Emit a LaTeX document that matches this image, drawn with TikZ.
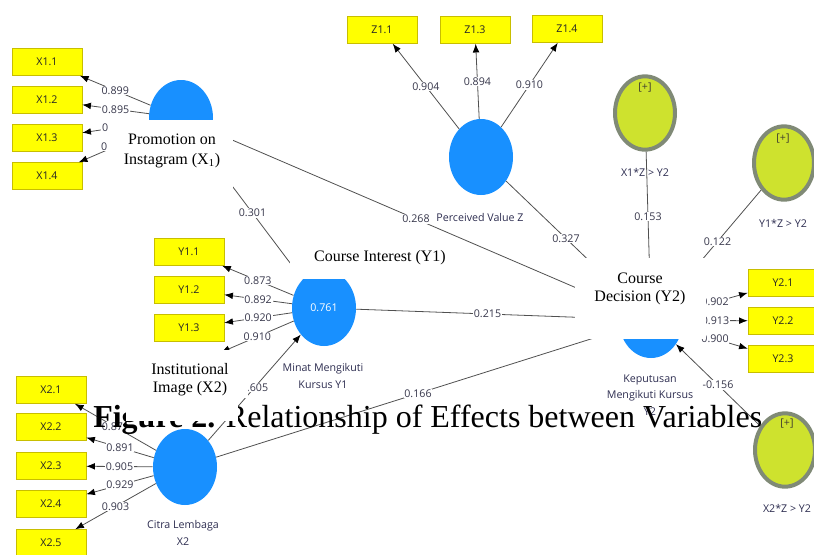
\documentclass[tikz,border=0pt]{standalone}
\usepackage{fontspec}
\setmainfont{Liberation Serif}
\newfontfamily\plsfont{Open Sans}
\usetikzlibrary{arrows.meta,shapes.geometric}
\definecolor{boxfill}{RGB}{255,255,0}
\definecolor{boxedge}{RGB}{200,190,0}
\definecolor{latentblue}{RGB}{24,144,255}
\definecolor{modfill}{RGB}{206,226,46}
\definecolor{modedge}{RGB}{128,138,118}
\definecolor{linegray}{RGB}{80,80,80}
\definecolor{labeltext}{RGB}{55,55,75}
\definecolor{nametext}{RGB}{45,45,80}
\def\plssize{\plsfont\fontsize{8}{12.5}\selectfont}
\def\timessize{\fontsize{12}{13.5}\selectfont}
\tikzset{
  indicator/.style={draw=boxedge, fill=boxfill, minimum width=52.5pt, minimum height=20.25pt, inner sep=0pt, font=\plssize, text=black!85},
  latent/.style={ellipse, fill=latentblue, minimum width=48pt, minimum height=57pt, inner sep=0pt, font=\plssize, text=white},
  moderator/.style={ellipse, draw=modedge, line width=3pt, fill=modfill, minimum width=45pt, minimum height=55pt, inner sep=0pt},
  loading/.style={draw=linegray, line width=0.6pt, -{Latex[length=6.5pt,width=5pt,color=black]}},
  effect/.style={draw=linegray, line width=0.6pt, -{Latex[length=6.5pt,width=5pt,color=black]}},
  coef/.style={fill=white, inner sep=0.6pt, font=\plssize, text=labeltext},
  lvname/.style={align=center, font=\plssize, text=nametext},
  plus/.style={font=\plssize, text=black!70!olive},
  capnote/.style={align=center, font=\timessize, text=black}
}

\begin{document}
\begin{tikzpicture}[x=0.75pt,y=-0.75pt]
  %%%%% START %%%%%
  \useasboundingbox (0,0) rectangle (814,554);
  \clip (0,0) rectangle (814,554);

  % latent variables
  \node[latent] (X1) at (181,118) {};
  \node[latent] (Y1) at (324,308) {0.761};
  \node[latent] (Z) at (481,157) {};
  \node[latent] (Y2) at (651,320) {};
  \node[latent] (X2) at (185,467) {};

  % moderating effects
  \node[moderator] (XZ1) at (645,113) {};
  \node[moderator] (YZ1) at (784,163) {};
  \node[moderator] (XZ2) at (785,450) {};
  \node[plus] at (645,88) {[+]};
  \node[plus] at (783,139) {[+]};
  \node[plus] at (787,424) {[+]};

  % indicators
  \node[indicator] (X11) at (47,62) {X1.1};
  \node[indicator] (X12) at (47,100) {X1.2};
  \node[indicator] (X13) at (47,138) {X1.3};
  \node[indicator] (X14) at (47,176) {X1.4};

  \node[indicator] (Y11) at (189,252) {Y1.1};
  \node[indicator] (Y12) at (189,290) {Y1.2};
  \node[indicator] (Y13) at (189,328) {Y1.3};
  \node[indicator] (Y14) at (189,366) {Y1.4};

  \node[indicator] (X21) at (51,390) {X2.1};
  \node[indicator] (X22) at (51,427) {X2.2};
  \node[indicator] (X23) at (51,466) {X2.3};
  \node[indicator] (X24) at (51,504) {X2.4};
  \node[indicator] (X25) at (51,543) {X2.5};

  \node[indicator] (Z11) at (382,30) {Z1.1};
  \node[indicator] (Z13) at (475,30) {Z1.3};
  \node[indicator] (Z14) at (567,29) {Z1.4};

  \node[indicator] (Y21) at (783,283) {Y2.1};
  \node[indicator] (Y22) at (783,321) {Y2.2};
  \node[indicator] (Y23) at (783,359) {Y2.3};

  % outer loadings
  \draw[loading] (X1) -- node[coef] {0.899} (X11);
  \draw[loading] (X1) -- node[coef] {0.895} (X12);
  \draw[loading] (X1) -- node[coef] {0\phantom{.000}} (X13);
  \draw[loading] (X1) -- node[coef] {0\phantom{.000}} (X14);

  \draw[loading] (Y1) -- node[coef] {0.873} (Y11);
  \draw[loading] (Y1) -- node[coef] {0.892} (Y12);
  \draw[loading] (Y1) -- node[coef] {0.920} (Y13);
  \draw[loading] (Y1) -- node[coef] {0.910} (Y14);

  \draw[loading] (X2) -- node[coef] {0.87\phantom{0}} (X21);
  \draw[loading] (X2) -- node[coef] {0.891} (X22);
  \draw[loading] (X2) -- node[coef] {0.905} (X23);
  \draw[loading] (X2) -- node[coef] {0.929} (X24);
  \draw[loading] (X2) -- node[coef] {0.903} (X25);

  \draw[loading] (Z) -- node[coef] {0.904} (Z11);
  \draw[loading] (Z) -- node[coef] {0.894} (Z13);
  \draw[loading] (Z) -- node[coef] {0.910} (Z14);

  \draw[loading] (Y2) -- node[coef] {0.902} (Y21);
  \draw[loading] (Y2) -- node[coef] {0.913} (Y22);
  \draw[loading] (Y2) -- node[coef] {0.900} (Y23);

  % path coefficients
  \draw[effect] (X1) -- node[coef] {0.301} (Y1);
  \draw[effect] (X1) -- node[coef] {0.268} (Y2);
  \draw[effect] (X2) -- node[coef] {0.605} (Y1);
  \draw[effect] (X2) -- node[coef] {0.166} (Y2);
  \draw[effect] (Y1) -- node[coef] {0.215} (Y2);
  \draw[effect] (Z) -- node[coef] {0.327} (Y2);
  \draw[effect] (XZ1) -- node[coef] {0.153} (Y2);
  \draw[effect] (YZ1) -- node[coef] {0.122} (Y2);
  \draw[effect] (XZ2) -- node[coef] {-0.156} (Y2);

  % names under the circles
  \node[lvname] (nZ) at (480,217) {Perceived Value Z};
  \node[lvname] (nY1) at (323,376) {Minat Mengikuti\\Kursus Y1};
  \node[lvname] (nX2) at (183,533) {Citra Lembaga\\X2};
  \node[lvname] (nY2) at (650,395) {Keputusan\\Mengikuti Kursus\\Y2};
  \node[lvname] (nXZ1) at (645,172) {X1*Z > Y2};
  \node[lvname] (nYZ1) at (783,223) {Y1*Z > Y2};
  \node[lvname] (nXZ2) at (787,508) {X2*Z > Y2};

  % english names pasted over the screenshot
  \fill[white] (108,120) rectangle (233,200);
  \node[capnote, font=\fontsize{12}{15}\selectfont] (promo) at (172,151) {Promotion on\\Instagram (X\textsubscript{1})};
  \fill[white] (290,243) rectangle (452,279);
  \node[capnote] (interest) at (380,258) {Course Interest (Y1)};
  \fill[white] (575,258) rectangle (706,339);
  \node[capnote] (decision) at (640,289) {Course\\Decision (Y2)};

  \node[anchor=base west, inner sep=0pt, font=\fontsize{24}{28}\selectfont] (caption) at (93,427) {\textbf{Figure 2.} Relationship of Effects between Variables};

  \fill[white] (126,350) rectangle (248,398);
  \fill[white] (126,398) rectangle (238,421);
  \node[capnote] (image) at (190,379.5) {Institutional\\Image (X2)};
  %%%%% END %%%%%
\end{tikzpicture}
\end{document}
